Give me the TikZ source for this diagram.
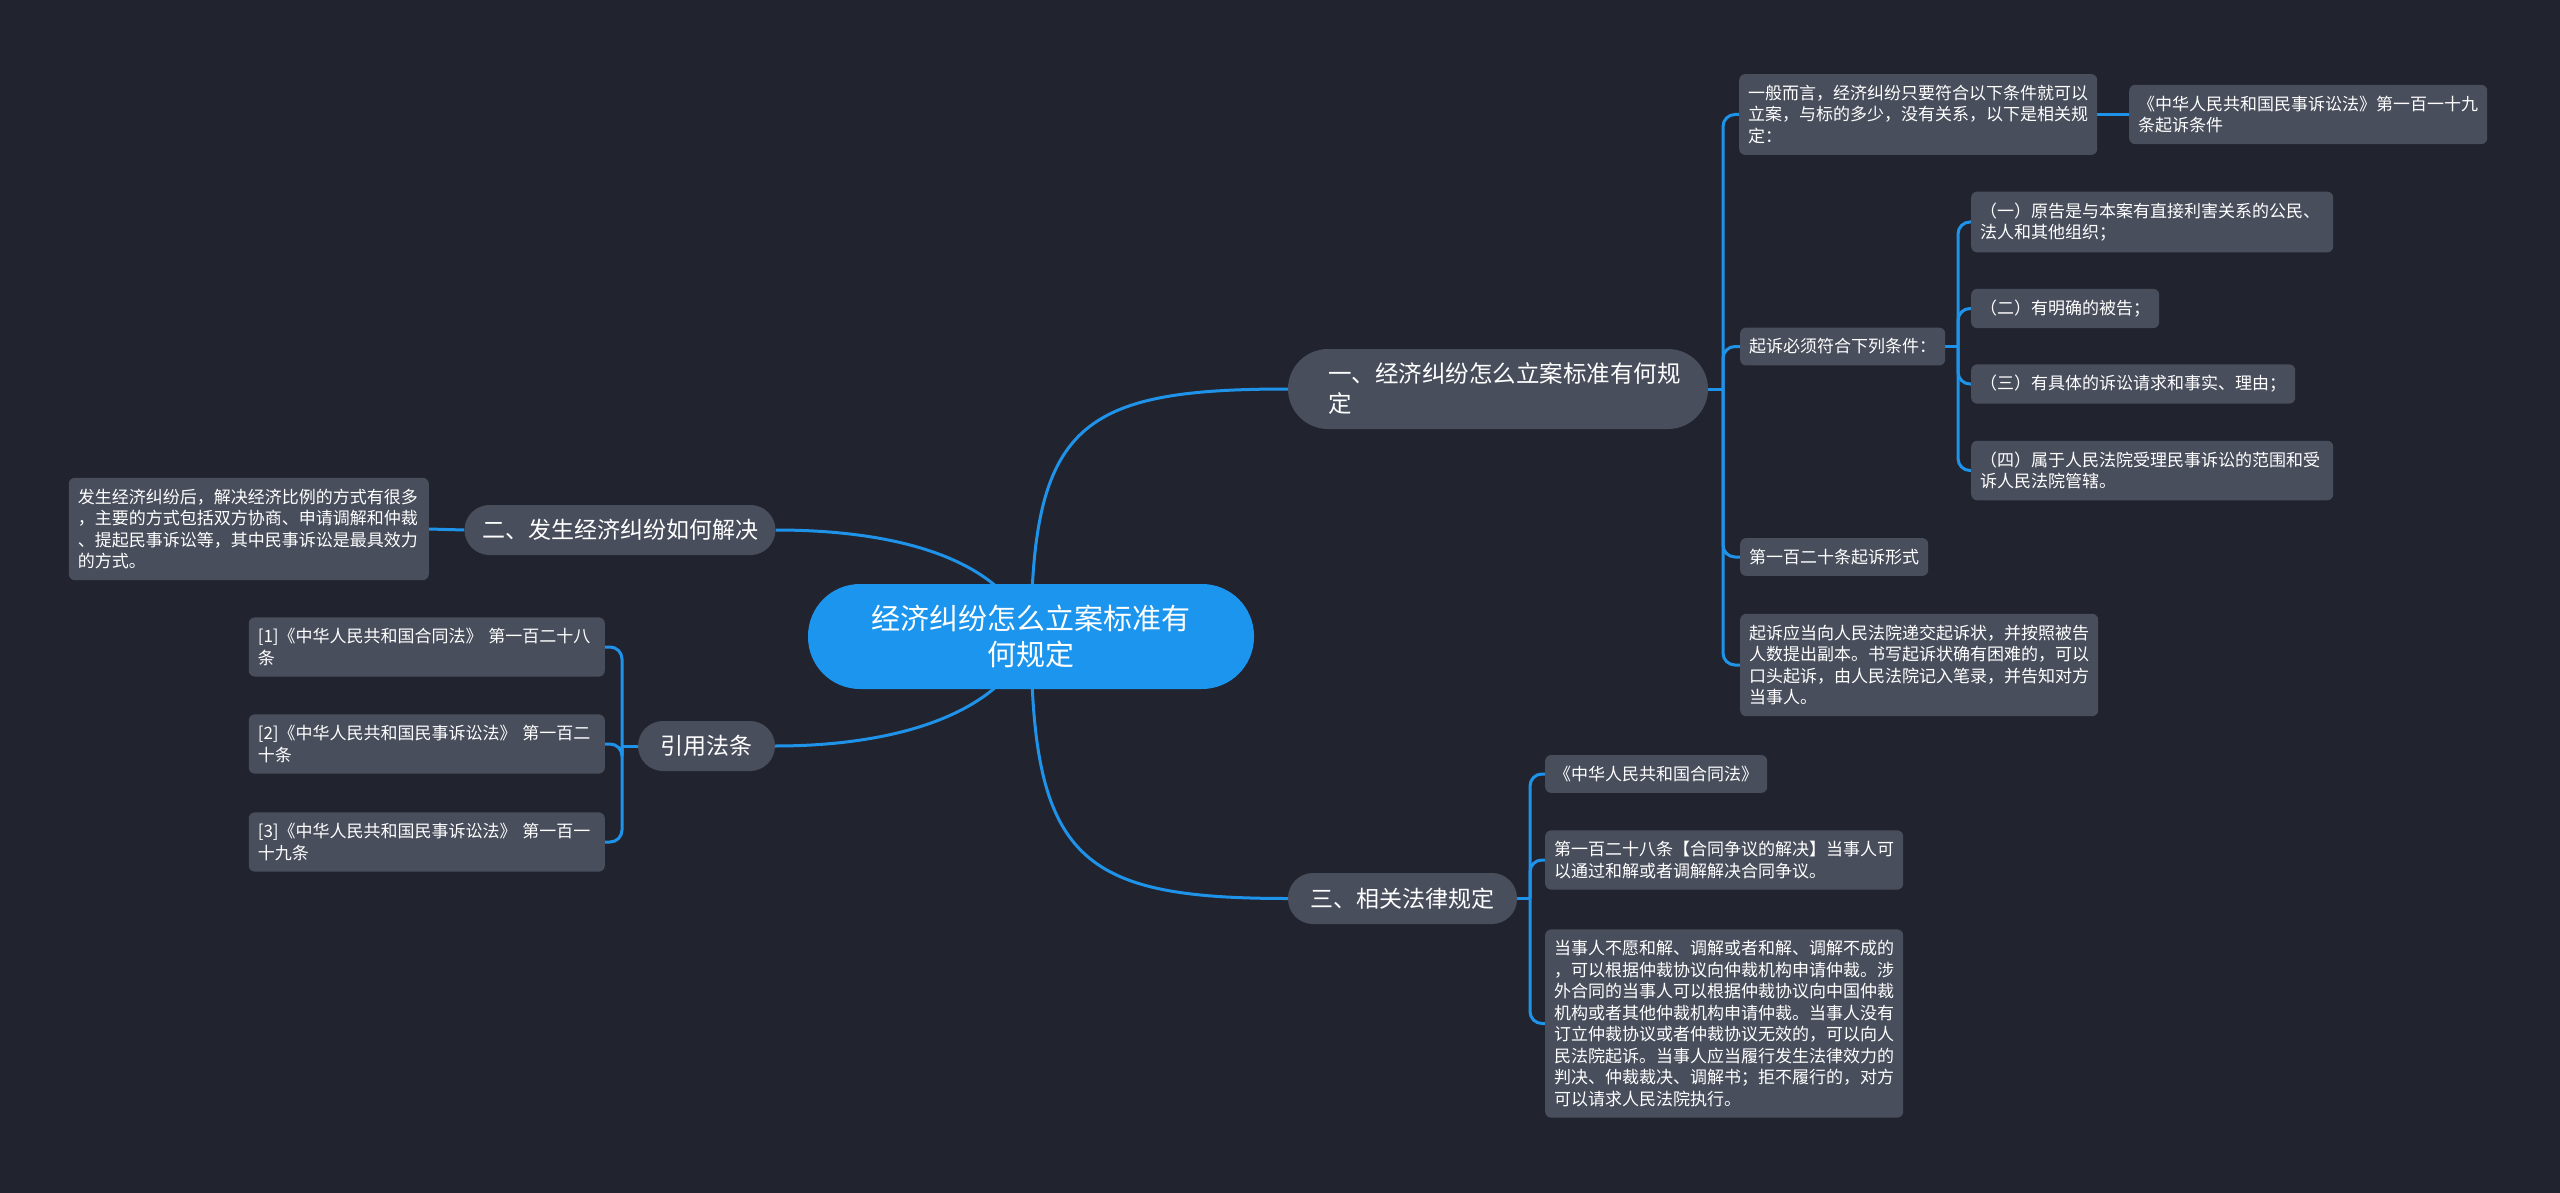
\documentclass[tikz,border=0pt]{standalone}
\usepackage{fontspec}
\newfontfamily\cjk{Noto Sans CJK SC}
\definecolor{bgc}{HTML}{21242E}
\definecolor{nodeg}{HTML}{494E5C}
\definecolor{blueC}{HTML}{1B95EE}
\definecolor{lineC}{HTML}{1F93EA}
\pgfdeclarelayer{bgl}
\pgfsetlayers{bgl,main}
\begin{document}
\begin{tikzpicture}[x=1pt,y=-1pt,
  leaf/.style={fill=nodeg, rounded corners=6, text=white, font=\cjk\fontsize{17}{21.5}\selectfont, inner xsep=9, inner ysep=11, align=left, text width=#1},
  pill/.style={fill=nodeg, text=white, font=\cjk\fontsize{23}{30}\selectfont, inner sep=0, align=center},
  conn/.style={draw=lineC, line width=3, rounded corners=12},
]
\begin{pgfonlayer}{bgl}
\fill[bgc] (0,0) rectangle (2560,1193);
\end{pgfonlayer}
\useasboundingbox (0,0) rectangle (2560,1193);

% central
\node[fill=blueC, text=white, rounded corners=52, minimum width=446, minimum height=105, inner sep=0, align=center, font=\cjk\fontsize{29}{36}\selectfont] (c) at (1031,636.5) {经济纠纷怎么立案标准有\\何规定};

% level 1
\node[pill, minimum width=420, minimum height=80, rounded corners=40, text width=340, align=left, font=\cjk\fontsize{23.5}{30}\selectfont] (n1) at (1498,389) {一、经济纠纷怎么立案标准有何规\\定};
\node[pill, minimum width=311, minimum height=50, rounded corners=25] (n2) at (620,530) {二、发生经济纠纷如何解决};
\node[pill, minimum width=137, minimum height=50, rounded corners=25] (n4) at (706.5,746) {引用法条};
\node[pill, minimum width=229, minimum height=51, rounded corners=25] (n3) at (1402.5,898.5) {三、相关法律规定};

% branch 1 leaves
\node[leaf=340, anchor=west] (a) at (1739,114.5) {一般而言，经济纠纷只要符合以下条件就可以\\立案，与标的多少，没有关系，以下是相关规\\定：};
\node[leaf=340, anchor=west] (a1) at (2129,114.5) {《中华人民共和国民事诉讼法》第一百一十九\\条起诉条件};
\node[leaf=187, anchor=west] (b) at (1740,346.5) {起诉必须符合下列条件：};
\node[leaf=344, anchor=west] (b1) at (1971,222) {（一）原告是与本案有直接利害关系的公民、\\法人和其他组织；};
\node[leaf=170, anchor=west] (b2) at (1971,308.5) {（二）有明确的被告；};
\node[leaf=306, anchor=west] (b3) at (1971,384) {（三）有具体的诉讼请求和事实、理由；};
\node[leaf=344, anchor=west] (b4) at (1971,470.5) {（四）属于人民法院受理民事诉讼的范围和受\\诉人民法院管辖。};
\node[leaf=170, anchor=west] (d) at (1740,557) {第一百二十条起诉形式};
\node[leaf=340, anchor=west] (e) at (1740,665) {起诉应当向人民法院递交起诉状，并按照被告\\人数提出副本。书写起诉状确有困难的，可以\\口头起诉，由人民法院记入笔录，并告知对方\\当事人。};

% branch 3 leaves
\node[leaf=204, anchor=west] (f1) at (1545,774) {《中华人民共和国合同法》};
\node[leaf=340, anchor=west] (f2) at (1545,860) {第一百二十八条【合同争议的解决】当事人可\\以通过和解或者调解解决合同争议。};
\node[leaf=340, anchor=west] (f3) at (1545,1023.5) {当事人不愿和解、调解或者和解、调解不成的\\，可以根据仲裁协议向仲裁机构申请仲裁。涉\\外合同的当事人可以根据仲裁协议向中国仲裁\\机构或者其他仲裁机构申请仲裁。当事人没有\\订立仲裁协议或者仲裁协议无效的，可以向人\\民法院起诉。当事人应当履行发生法律效力的\\判决、仲裁裁决、调解书；拒不履行的，对方\\可以请求人民法院执行。};

% branch 2 leaf
\node[leaf=342, anchor=east] (g) at (429,529) {发生经济纠纷后，解决经济比例的方式有很多\\，主要的方式包括双方协商、申请调解和仲裁\\、提起民事诉讼等，其中民事诉讼是最具效力\\的方式。};

% citations
\node[leaf=338, anchor=east] (h1) at (605,647) {[1]《中华人民共和国合同法》 第一百二十八\\条};
\node[leaf=338, anchor=east] (h2) at (605,744) {[2]《中华人民共和国民事诉讼法》 第一百二\\十条};
\node[leaf=338, anchor=east] (h3) at (605,842) {[3]《中华人民共和国民事诉讼法》 第一百一\\十九条};

% junctions
\coordinate (j1) at (1723,389);
\coordinate (j2) at (1958,346.5);
\coordinate (j3) at (1530,898.5);
\coordinate (j4) at (622,746);

\begin{pgfonlayer}{bgl}
\draw[conn] (c.center) .. controls (1032,424) and (1080,389) .. (n1.west);
\draw[conn] (c.center) .. controls (1032,860) and (1080,898.5) .. (n3.west);
\draw[conn] (n2.east) .. controls (900,530) and (1005,560) .. (c.center);
\draw[conn] (n4.east) .. controls (900,746) and (1005,712) .. (c.center);

\draw[conn] (n1.east) -- (j1);
\foreach \t in {a,b,d,e} \draw[conn] (j1) |- (\t.west);
\draw[conn] (a.east) -- (a1.west);
\draw[conn] (b.east) -- (j2);
\foreach \t in {b1,b2,b3,b4} \draw[conn] (j2) |- (\t.west);
\draw[conn] (n3.east) -- (j3);
\foreach \t in {f1,f2,f3} \draw[conn] (j3) |- (\t.west);
\draw[conn] (n2.west) -- (g.east);
\draw[conn] (n4.west) -- (j4);
\foreach \t in {h1,h2,h3} \draw[conn] (j4) |- (\t.east);
\end{pgfonlayer}
\end{tikzpicture}
\end{document}
